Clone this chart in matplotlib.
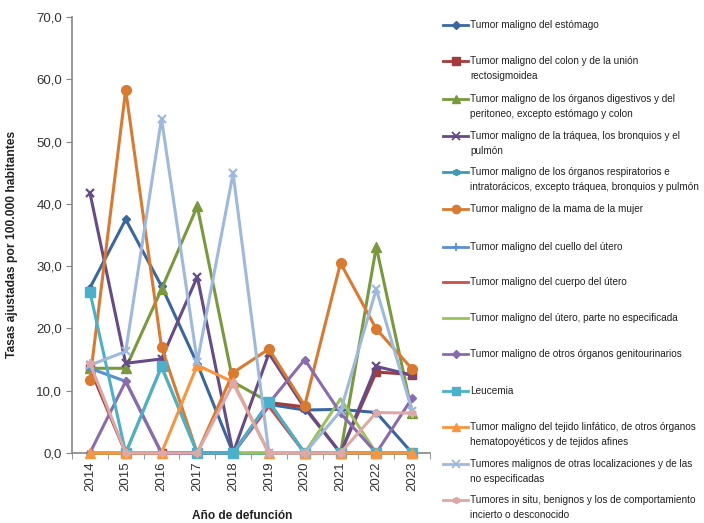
import matplotlib
matplotlib.use("Agg")
import matplotlib.pyplot as plt
from matplotlib.lines import Line2D
from matplotlib.ticker import FuncFormatter, FixedLocator
import numpy as np

years = [2014, 2015, 2016, 2017, 2018, 2019, 2020, 2021, 2022, 2023]

labels = [
    "Tumor maligno del estómago",
    "Tumor maligno del colon y de la unión\nrectosigmoidea",
    "Tumor maligno de los órganos digestivos y del\nperitoneo, excepto estómago y colon",
    "Tumor maligno de la tráquea, los bronquios y el\npulmón",
    "Tumor maligno de los órganos respiratorios e\nintratorácicos, excepto tráquea, bronquios y pulmón",
    "Tumor maligno de la mama de la mujer",
    "Tumor maligno del cuello del útero",
    "Tumor maligno del cuerpo del útero",
    "Tumor maligno del útero, parte no especificada",
    "Tumor maligno de otros órganos genitourinarios",
    "Leucemia",
    "Tumor maligno del tejido linfático, de otros órganos\nhematopoyéticos y de tejidos afines",
    "Tumores malignos de otras localizaciones y de las\nno especificadas",
    "Tumores in situ, benignos y los de comportamiento\nincierto o desconocido",
]

estomago = [26.5, 37.5, 26.8, 14.3, 0.0, 7.8, 6.9, 7.0, 6.5, 0.0]
colon = [13.6, 0.0, 0.0, 0.0, 0.0, 8.1, 7.4, 0.0, 13.0, 12.6]
digestivos = [13.6, 13.6, 26.3, 39.6, 11.4, 8.2, 0.0, 0.0, 33.1, 6.5]
traquea = [41.8, 14.4, 15.1, 28.3, 0.0, 16.0, 7.2, 0.0, 13.9, 12.5]
respiratorios = [0.0, 0.0, 0.0, 0.0, 0.0, 0.0, 0.0, 0.0, 0.0, 0.0]
mama = [11.7, 58.3, 17.0, 0.0, 12.9, 16.7, 7.6, 30.5, 19.9, 13.5]
cuello = [13.6, 11.5, 0.0, 0.0, 0.0, 0.0, 0.0, 0.0, 0.0, 0.0]
cuerpo = [0.0, 0.0, 0.0, 0.0, 0.0, 7.5, 0.0, 0.0, 0.0, 0.0]
utero_ne = [0.0, 0.0, 13.8, 0.0, 0.0, 0.0, 0.0, 8.7, 0.0, 0.0]
genitourinarios = [0.0, 11.5, 0.0, 0.0, 0.0, 8.0, 15.0, 6.4, 0.0, 8.8]
leucemia = [25.9, 0.0, 13.9, 0.0, 0.0, 8.2, 0.0, 0.0, 0.0, 0.0]
linfatico = [0.0, 0.0, 0.0, 14.1, 11.4, 0.0, 0.0, 0.0, 0.0, 0.0]
otras = [14.1, 16.3, 53.7, 14.6, 44.9, 0.0, 0.0, 6.7, 26.3, 6.8]
in_situ = [14.4, 0.0, 0.0, 0.0, 11.2, 0.0, 0.0, 0.0, 6.5, 6.4]

series = [estomago, colon, digestivos, traquea, respiratorios, mama, cuello,
          cuerpo, utero_ne, genitourinarios, leucemia, linfatico, otras, in_situ]

colors = ["#3A67A0", "#A33B3A", "#789A3C", "#654B87", "#3A9DB5", "#DA7A30",
          "#5B8FD0", "#CF4E4A", "#9BC25A", "#8B6BB0", "#4BB1CB", "#F8953F",
          "#9DB9DE", "#DEA8A6"]
star = (6, 2, 0)
markers = ["D", "s", "^", "x", star, "o", "+", None, None, "D", "s", "^", "x", star]
msizes = [4.5, 6, 6.5, 6, 6, 7, 6, 0, 0, 4.5, 6.5, 6.5, 6, 6]

font = ["Liberation Sans", "DejaVu Sans"]
plt.rcParams["font.family"] = font

W, H = 704, 523
fig = plt.figure(figsize=(W / 100, H / 100), dpi=100)
ax = fig.add_axes([72 / W, 1 - 453 / H, (430 - 72) / W, (453 - 17) / H])

x = np.arange(len(years))
for vals, c, m, ms in zip(series, colors, markers, msizes):
    ax.plot(x, vals, color=c, lw=2.2, marker=m, markersize=ms,
            markeredgewidth=1.6 if m in ("x", "+", star) else 1.0,
            markerfacecolor=c, markeredgecolor=c, solid_joinstyle="round",
            clip_on=False, zorder=3)

ax.set_xlim(-0.5, len(years) - 0.5)
ax.set_ylim(0, 70)
ax.set_yticks(np.arange(0, 71, 10))
ax.yaxis.set_major_formatter(FuncFormatter(lambda v, p: f"{v:.1f}".replace(".", ",")))
ax.set_xticks(x)
ax.set_xticklabels([str(y) for y in years], rotation=90)
ax.xaxis.set_minor_locator(FixedLocator(np.arange(-0.5, len(years), 1.0)))
ax.tick_params(axis="x", which="major", length=0, pad=6, labelsize=9.5)
ax.tick_params(axis="x", which="minor", length=4, color="#868686", direction="out")
ax.tick_params(axis="y", which="major", length=4, color="#868686", labelsize=9.5, pad=3)
for lab in ax.get_yticklabels() + ax.get_xticklabels():
    lab.set_color("#333333")
for s in ("top", "right"):
    ax.spines[s].set_visible(False)
for s in ("left", "bottom"):
    ax.spines[s].set_color("#868686")
    ax.spines[s].set_linewidth(1.2)

ax.set_ylabel("Tasas ajustadas por 100.000 habitantes", fontsize=8.7,
              fontweight="bold", color="#222222")
ax.yaxis.set_label_coords((18 - 72) / 358, (453 - 244) / 436)
ax.set_xlabel("Año de defunción", fontsize=8.6, fontweight="bold",
              color="#222222", labelpad=14)
ax.xaxis.label.set_x((242 - 72) / 358)

# Legend drawn as a fixed-slot column to the right of the plot
first_line_y = [25, 61, 99, 136, 172, 209, 247, 282, 318, 354, 391, 427, 464, 500]
for lab, c, m, ms, yy in zip(labels, colors, markers, msizes, first_line_y):
    yf = 1 - yy / H
    fig.add_artist(Line2D([443 / W, 468 / W], [yf, yf], transform=fig.transFigure,
                          color=c, lw=2.0))
    if m is not None:
        fig.add_artist(Line2D([455.5 / W], [yf], transform=fig.transFigure,
                              color=c, marker=m, markersize=ms * 0.85,
                              markerfacecolor=c, markeredgecolor=c,
                              markeredgewidth=1.3 if m in ("x", "+", star) else 1.0,
                              lw=0))
    fig.text(470 / W, yf + 5.0 / H, lab, fontsize=7.2, va="top", ha="left",
             color="#222222", linespacing=1.6)

fig.savefig("out.png", dpi=100)
